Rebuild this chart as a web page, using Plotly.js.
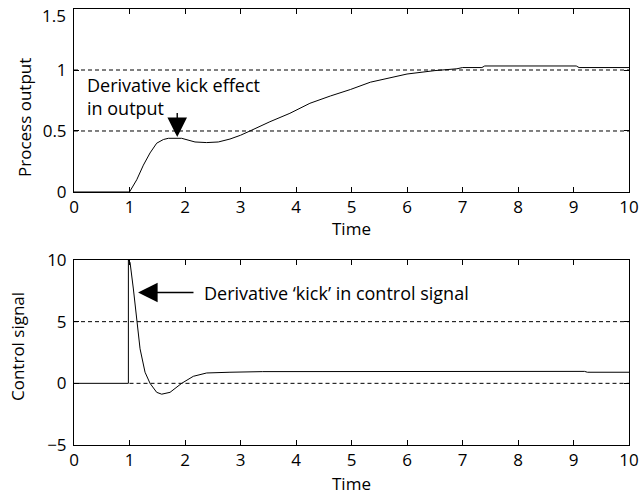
<!DOCTYPE html>
<html>
<head>
<meta charset="utf-8">
<script src="https://cdn.plot.ly/plotly-3.0.1.min.js"></script>
<style>html,body{margin:0;padding:0;background:#fff}#chart{width:644px;height:497px}</style>
</head>
<body>
<div id="chart"></div>
<script>
// Process output (top panel)
const timeOut = [0, 1.0, 1.13, 1.25, 1.37, 1.49, 1.61, 1.70, 1.94, 2.18, 2.39, 2.60, 2.81, 3.0, 3.17, 3.53, 3.89, 4.25, 4.62, 4.98, 5.34, 5.7, 6.0, 6.5, 6.9, 7.0, 7.35, 7.4, 9.05, 9.1, 10];
const processOutput = [0, 0, 0.10, 0.22, 0.32, 0.40, 0.43, 0.44, 0.44, 0.41, 0.405, 0.41, 0.434, 0.465, 0.50, 0.576, 0.645, 0.727, 0.787, 0.84, 0.90, 0.94, 0.967, 0.995, 1.01, 1.02, 1.02, 1.033, 1.033, 1.02, 1.02];

// Control signal (bottom panel)
const timeCtrl = [0, 0.98, 0.98, 1.01, 1.07, 1.13, 1.19, 1.28, 1.37, 1.49, 1.58, 1.73, 1.94, 2.15, 2.39, 2.81, 3.4, 9.2, 9.25, 10];
const controlSignal = [0, 0, 10, 9.8, 7.65, 4.95, 2.8, 0.9, 0, -0.73, -0.88, -0.73, 0, 0.57, 0.84, 0.9, 0.95, 0.97, 0.9, 0.9];

// Dashed reference levels
const refTopX = [0, 10];
const refTopHigh = [1, 1];
const refTopLow = [0.5, 0.5];
const refBotHighX = [0, 10];
const refBotHigh = [5, 5];
const refBotZeroX = [1, 10];
const refBotZero = [0, 0];

const xTicks = [0, 1, 2, 3, 4, 5, 6, 7, 8, 9, 10];
const yTopTicks = [0, 0.5, 1, 1.5];
const yTopLabels = ['0', '0.5', '1', ''];   // '1.5' is drawn slightly lowered, as in the reference
const yTopTopLabel = '1.5';
const yBotTicks = [-5, 0, 5, 10];
const yBotLabels = ['\u22125', '0', '5', '10'];

const FONT = '"Open Sans", "Noto Sans", sans-serif';
const TICK_SIZE = 17, TITLE_SIZE = 17, NOTE_SIZE = 18;
const solid = {color: '#000', width: 1};
const dashed = {color: '#000', width: 1, dash: '4px,3px'};

const traces = [
  {x: refTopX, y: refTopHigh, xaxis: 'x', yaxis: 'y', mode: 'lines', line: dashed},
  {x: refTopX, y: refTopLow, xaxis: 'x', yaxis: 'y', mode: 'lines', line: dashed},
  {x: timeOut, y: processOutput, xaxis: 'x', yaxis: 'y', mode: 'lines', line: solid},
  {x: refBotHighX, y: refBotHigh, xaxis: 'x2', yaxis: 'y2', mode: 'lines', line: dashed},
  {x: refBotZeroX, y: refBotZero, xaxis: 'x2', yaxis: 'y2', mode: 'lines', line: dashed},
  {x: timeCtrl, y: controlSignal, xaxis: 'x2', yaxis: 'y2', mode: 'lines', line: solid}
];

const axisCommon = {
  showgrid: false, zeroline: false, showline: true, linecolor: '#000', linewidth: 1,
  mirror: 'ticks', ticks: 'inside', ticklen: 5, tickcolor: '#000', tickwidth: 1,
  ticklabeloverflow: 'allow',
  tickfont: {family: FONT, size: TICK_SIZE, color: '#000'}, automargin: false
};

const titleFont = {family: FONT, size: TITLE_SIZE, color: '#000'};
const noteFont = {family: FONT, size: NOTE_SIZE, color: '#000'};

const layout = {
  width: 644, height: 497,
  margin: {l: 74, r: 15, t: 9, b: 52},
  paper_bgcolor: '#fff', plot_bgcolor: '#fff',
  showlegend: false,
  font: {family: FONT, size: TICK_SIZE, color: '#000'},
  xaxis: Object.assign({}, axisCommon, {
    anchor: 'y', domain: [0, 1], range: [0, 10], tickvals: xTicks
  }),
  yaxis: Object.assign({}, axisCommon, {
    anchor: 'x', domain: [0.5803, 1], range: [0, 1.5], tickvals: yTopTicks, ticktext: yTopLabels,
    ticklabelstandoff: 3
  }),
  xaxis2: Object.assign({}, axisCommon, {
    anchor: 'y2', domain: [0, 1], range: [0, 10], tickvals: xTicks
  }),
  yaxis2: Object.assign({}, axisCommon, {
    anchor: 'x2', domain: [0, 0.4243], range: [-5, 10], tickvals: yBotTicks, ticktext: yBotLabels,
    ticklabelstandoff: 3
  }),
  annotations: [
    // axis titles
    {xref: 'paper', yref: 'paper', x: -0.0883, y: 0.7523, xanchor: 'center', yanchor: 'middle',
     textangle: -90, text: 'Process output', showarrow: false, font: titleFont},
    {xref: 'paper', yref: 'paper', x: -0.1009, y: 0.2248, xanchor: 'center', yanchor: 'middle',
     textangle: -90, text: 'Control signal', showarrow: false, font: titleFont},
    {xref: 'paper', yref: 'paper', x: 0.5, y: 0.4966, xanchor: 'center', yanchor: 'middle',
     text: 'Time', showarrow: false, font: titleFont},
    {xref: 'paper', yref: 'paper', x: 0.5, y: -0.0876, xanchor: 'center', yanchor: 'middle',
     text: 'Time', showarrow: false, font: titleFont},
    // top tick label of the upper panel
    {xref: 'paper', yref: 'paper', x: -0.0108, y: 0.985, xanchor: 'right', yanchor: 'middle',
     text: yTopTopLabel, showarrow: false, font: {family: FONT, size: TICK_SIZE, color: '#000'}},
    // callouts
    {xref: 'x', yref: 'y', x: 0.2, y: 0.78, xanchor: 'left', yanchor: 'middle', align: 'left',
     text: 'Derivative kick effect<br>in output', showarrow: false, font: noteFont},
    {xref: 'x', yref: 'y', x: 1.86, y: 0.45, axref: 'x', ayref: 'y', ax: 1.86, ay: 0.66,
     text: '', showarrow: true, arrowhead: 2, arrowsize: 2.8, arrowwidth: 1.4, arrowcolor: '#000'},
    {xref: 'x2', yref: 'y2', x: 2.31, y: 7.36, xanchor: 'left', yanchor: 'middle',
     text: 'Derivative \u2018kick\u2019 in control signal', showarrow: false, font: noteFont},
    {xref: 'x2', yref: 'y2', x: 1.154, y: 7.36, axref: 'x2', ayref: 'y2', ax: 2.18, ay: 7.36,
     text: '', showarrow: true, arrowhead: 2, arrowsize: 2.8, arrowwidth: 1.4, arrowcolor: '#000'}
  ]
};

Plotly.newPlot('chart', traces, layout, {displayModeBar: false, staticPlot: true});
</script>
</body>
</html>
